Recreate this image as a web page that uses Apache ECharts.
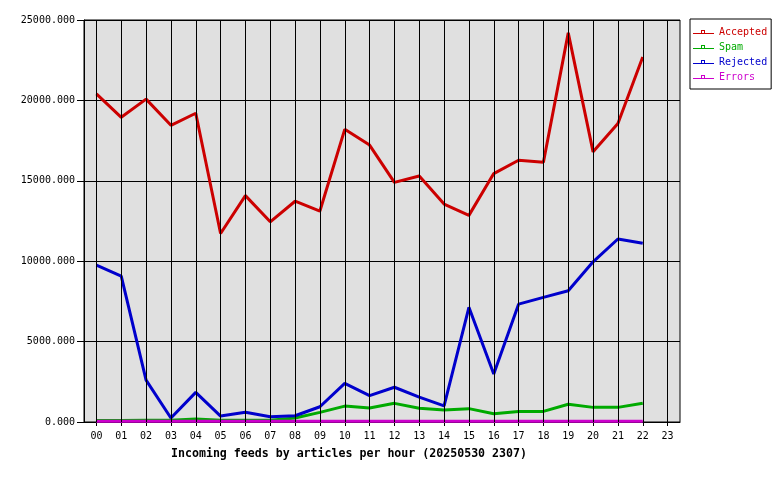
<!DOCTYPE html>
<html>
<head>
<meta charset="utf-8">
<script src="https://cdn.jsdelivr.net/npm/echarts@6/dist/echarts.min.js"></script>
<style>html,body{margin:0;padding:0;background:#fff}#c{width:780px;height:480px}</style>
</head>
<body>
<div id="c"></div>
<script>
var hours = ['00','01','02','03','04','05','06','07','08','09','10','11','12','13','14','15','16','17','18','19','20','21','22','23'];
var accepted = [20400,18950,20080,18450,19200,11720,14080,12450,13730,13120,18200,17220,14900,15300,13550,12850,15450,16280,16150,24200,16800,18560,22700];
var spam = [90,100,110,110,180,110,110,110,250,600,990,870,1160,850,750,830,510,660,660,1100,910,910,1170];
var rejected = [9750,9070,2600,250,1840,370,600,330,390,950,2400,1640,2160,1550,1000,7130,2980,7330,7750,8160,9960,11380,11110];
var errors = [40,40,40,40,40,40,40,40,40,40,40,40,40,40,40,40,40,40,40,40,40,40,40];
var names = ['Accepted','Spam','Rejected','Errors'];
var colors = ['#cc0000','#00aa00','#0000cc','#cc00cc'];
var yMax = 25000, yStep = 5000;
var titleText = 'Incoming feeds by articles per hour (20250530 2307)';

var mono = '"DejaVu Sans Mono", "Liberation Mono", monospace';
var icon = 'path://M0,3h21v1h-21z M8,0h4v1h-4z M8,0h1v4h-1z M11,0h1v4h-1z';
var chart = echarts.init(document.getElementById('c'), null, {renderer:'canvas'});
var seriesData = [accepted, spam, rejected, errors];
var series = [{
  name: 'grid', type: 'line', data: [], z: 1, silent: true,
  markLine: {
    silent: true, symbol: ['none','none'], label: {show:false}, animation:false,
    lineStyle: {color:'#000', width:1, type:'solid'},
    emphasis: {disabled:true},
    data: hours.map(function(h){ return {xAxis: h}; })
  }
}];
names.forEach(function(n, i){
  series.push({
    name: n, type: 'line', data: seriesData[i], showSymbol: false, symbol:'none',
    z: 3, color: colors[i],
    lineStyle: {width: 3, color: colors[i]}, emphasis:{disabled:true}
  });
});
chart.setOption({
  animation: false,
  backgroundColor: '#fff',
  title: {
    text: titleText, left: 166, top: 443,
    textStyle: {fontFamily: mono, fontWeight:'bold', fontSize: 11.6, color:'#000'}
  },
  legend: {
    orient: 'vertical', left: 690, top: 19,
    padding: [8, 4, 7, 3], itemGap: 5, itemWidth: 21, itemHeight: 4, itemTextGap: 2,
    borderColor: '#000', borderWidth: 1, backgroundColor: '#fff',
    icon: icon,
    textStyle: {fontFamily: mono, fontSize: 10, lineHeight: 10},
    data: names.map(function(n, i){ return {name: n, icon: icon, itemStyle:{color: colors[i]}, textStyle: {color: colors[i]}}; })
  },
  grid: {left: 84, top: 20, width: 596, height: 402, show: true, backgroundColor: '#e0e0e0', borderColor: '#000', borderWidth: 1},
  xAxis: {
    type: 'category', data: hours, boundaryGap: true,
    axisLine: {lineStyle: {color:'#000', width:1}},
    axisTick: {show:true, alignWithLabel:true, length:4, lineStyle:{color:'#000'}},
    axisLabel: {fontFamily: mono, fontSize: 10, color: '#000', margin: 9, interval: 0},
    splitLine: {show:false}
  },
  yAxis: {
    type: 'value', min: 0, max: yMax, interval: yStep,
    axisLine: {show:true, lineStyle: {color:'#000'}},
    axisTick: {show:true, length:7, lineStyle:{color:'#000'}},
    axisLabel: {fontFamily: mono, fontSize: 10, color: '#000', margin: 9, formatter: function(v){ return v.toFixed(3); }},
    splitLine: {show:true, lineStyle:{color:'#000', width:1}}
  },
  series: series
});
</script>
</body>
</html>
